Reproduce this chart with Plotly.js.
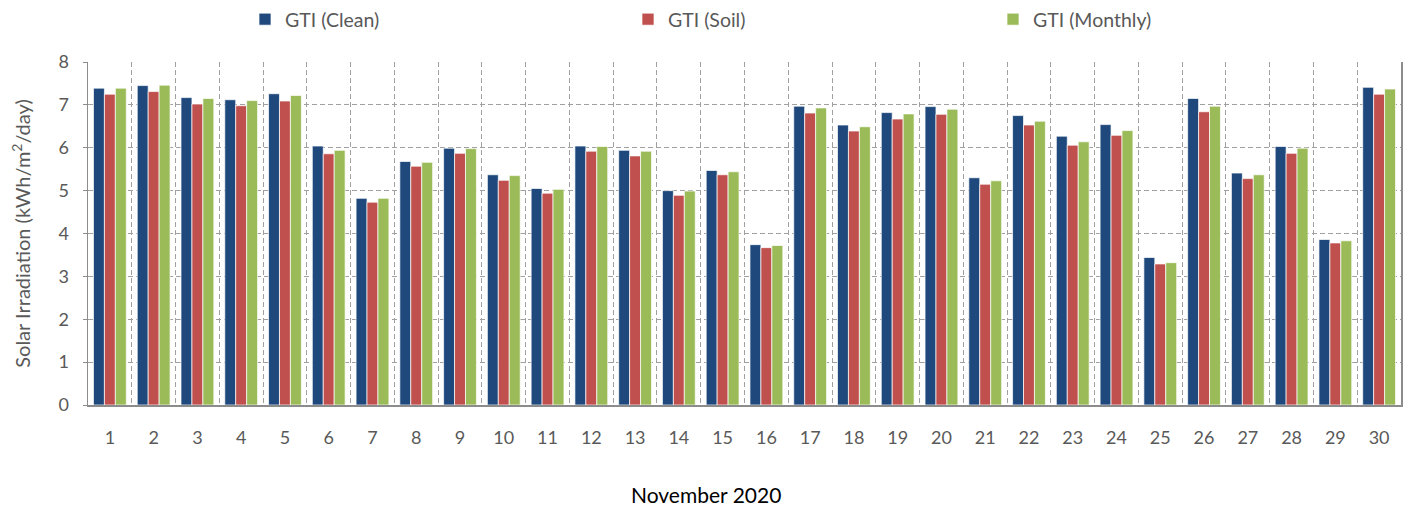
<!DOCTYPE html>
<html>
<head>
<meta charset="utf-8">
<script src="https://cdn.plot.ly/plotly-3.0.1.min.js"></script>
<style>html,body{margin:0;padding:0;background:#fff}#chart{width:1411px;height:510px}</style>
</head>
<body>
<div id="chart"></div>
<script>
const days = [1,2,3,4,5,6,7,8,9,10,11,12,13,14,15,16,17,18,19,20,21,22,23,24,25,26,27,28,29,30];
const gtiClean   = [7.39,7.45,7.17,7.12,7.26,6.04,4.82,5.68,5.99,5.37,5.05,6.04,5.94,5.00,5.47,3.74,6.97,6.53,6.82,6.96,5.30,6.75,6.27,6.54,3.44,7.15,5.41,6.03,3.86,7.41];
const gtiSoil    = [7.25,7.31,7.02,6.98,7.09,5.86,4.73,5.57,5.87,5.24,4.94,5.92,5.81,4.89,5.37,3.67,6.81,6.39,6.67,6.78,5.15,6.53,6.06,6.29,3.29,6.84,5.28,5.87,3.78,7.25];
const gtiMonthly = [7.39,7.46,7.15,7.10,7.22,5.94,4.82,5.66,5.98,5.35,5.03,6.03,5.92,4.99,5.44,3.72,6.93,6.49,6.79,6.90,5.23,6.62,6.14,6.40,3.32,6.97,5.37,5.99,3.83,7.37];
const seriesNames = ['GTI (Clean)','GTI (Soil)','GTI (Monthly)'];
const yTicks = [0,1,2,3,4,5,6,7,8];

const FONT = 'Lato, "Open Sans", sans-serif';
const GRID = '#a0a0a0';
const lineStyle = {color:'rgba(255,255,255,0.7)', width:1};

const traces = [
  {type:'bar', x:days, y:gtiClean, name:seriesNames[0], marker:{color:'#1F497D', line:lineStyle}, legend:'legend'},
  {type:'bar', x:days, y:gtiSoil, name:seriesNames[1], marker:{color:'#C0504D', line:lineStyle}, legend:'legend2'},
  {type:'bar', x:days, y:gtiMonthly, name:seriesNames[2], marker:{color:'#9BBB59', line:lineStyle}, legend:'legend3'}
];

function leg(xpx){
  return {orientation:'h', x:(xpx-88)/1313, xanchor:'left', yref:'container', y:1, yanchor:'top',
    font:{family:FONT, size:19.5, color:'#595959'}, bgcolor:'rgba(0,0,0,0)', itemwidth:30, tracegroupgap:0};
}

const layout = {
  width:1411, height:510,
  margin:{l:88, r:10, t:62, b:105},
  paper_bgcolor:'#fff', plot_bgcolor:'#fff',
  font:{family:FONT, color:'#595959'},
  barmode:'group', bargap:0.25, bargroupgap:0,
  showlegend:true,
  legend:leg(245), legend2:leg(628), legend3:leg(993),
  xaxis:{
    type:'linear', range:[0.5,30.5], tickmode:'array', tickvals:days, ticktext:days.map(String),
    showgrid:false, zeroline:false, showline:true, linecolor:'#8c8c8c', linewidth:1.5,
    ticks:'', ticklabelstandoff:16,
    tickfont:{family:FONT, size:18, color:'#595959'},
    minor:{tickmode:'linear', tick0:0.5, dtick:1, showgrid:true, gridcolor:GRID, griddash:'5px,3px', gridwidth:1, ticks:''}
  },
  yaxis:{
    range:[0,8], tickmode:'array', tickvals:yTicks,
    showgrid:true, gridcolor:GRID, griddash:'5px,3px', gridwidth:1,
    zeroline:false, showline:true, mirror:true, linecolor:'#8c8c8c', linewidth:1.5,
    ticks:'outside', ticklen:4, tickcolor:'#8c8c8c', ticklabelstandoff:10,
    tickfont:{family:FONT, size:18, color:'#595959'},
    title:{text:'Solar Irradiation (kWh/m<sup>2</sup>/day)', font:{family:FONT, size:20, color:'#595959'}, standoff:22}
  },
  annotations:[{
    text:'November 2020', xref:'paper', yref:'paper', x:(705.5-88)/1313, y:-0.262, xanchor:'center', yanchor:'middle',
    showarrow:false, font:{family:FONT, size:21, color:'#000'}
  }]
};

Plotly.newPlot('chart', traces, layout, {displayModeBar:false, staticPlot:true});
</script>
</body>
</html>
